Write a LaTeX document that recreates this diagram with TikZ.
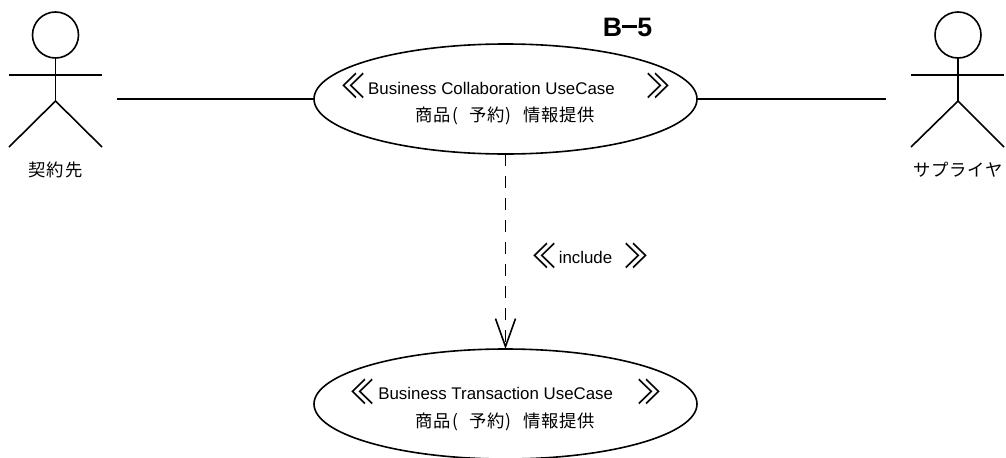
\documentclass[tikz,border=0pt]{standalone}
\usepackage{fontspec}
\usetikzlibrary{arrows.meta,shapes.geometric}
\setmainfont{Liberation Sans}
\newfontfamily\jpfont[LetterSpace=5]{Noto Sans CJK JP}
\newfontfamily\gfont{Noto Sans CJK JP}
\newcommand{\jtext}{\jpfont\fontsize{13pt}{13pt}\selectfont}
\newcommand{\sname}{商品(\hspace{8.7pt}予約)\hspace{8.7pt}情報提供}
\newcommand{\gl}{\scalebox{1}[1.4]{≪}}
\newcommand{\gr}{\scalebox{1}[1.4]{≫}}
\tikzset{
  x=0.75pt,y=-0.75pt,
  usecase/.style={draw,ellipse,minimum width=287.25pt,minimum height=82.5pt,inner sep=0pt,outer sep=0pt},
  head/.style={draw,circle,minimum size=34.5pt,inner sep=0pt,outer sep=0pt},
  latin/.style={inner sep=0pt,font=\fontsize{12.65pt}{12.65pt}\selectfont},
  jp/.style={inner sep=0pt,font=\jtext},
  guil/.style={inner sep=0pt,font=\gfont\fontsize{18pt}{18pt}\selectfont},
  title/.style={inner sep=0pt,font=\bfseries\fontsize{20pt}{20pt}\selectfont},
}
\begin{document}
\begin{tikzpicture}[line width=1.2pt]
\useasboundingbox (0,0) rectangle (1006,457);
\clip (0,0) rectangle (1006,457);
\node[usecase] (uc1) at (505.5,99) {};
\node[usecase] (uc2) at (505.5,404) {};
% left actor
\node[head] (h1) at (55.5,35) {};
\coordinate (hip1) at (55.5,101);
\coordinate (al1) at (9,75);
\coordinate (ar1) at (102,75);
\coordinate (ll1) at (9,147);
\coordinate (lr1) at (102,147);
\draw (h1.south) -- (hip1);
\draw (al1) -- (ar1);
\draw (ll1) -- (hip1) -- (lr1);
\node[jp] (n1) at (55.5,169.5) {契約先};
% right actor
\node[head] (h2) at (958,35) {};
\coordinate (hip2) at (958,101);
\coordinate (al2) at (911,75);
\coordinate (ar2) at (1004,75);
\coordinate (ll2) at (911,147);
\coordinate (lr2) at (1004,147);
\draw (h2.south) -- (hip2);
\draw (al2) -- (ar2);
\draw (ll2) -- (hip2) -- (lr2);
\node[jp] (n2) at (958,169.5) {サプライヤ};
% connectors
\coordinate (c1) at (117,99);
\coordinate (c2) at (886,99);
\draw (c1) -- (uc1.west);
\draw (uc1.east) -- (c2);
\draw[dash pattern=on 9pt off 7.5pt,-{Straight Barb[length=21pt,width=15pt]}] (uc1.south) -- (uc2.north);
% labels
\node[title] (t) at (627.5,27) {B\rule[6pt]{11.5pt}{2.3pt}5};
\node[guil] (g1l) at (353,86) {\gl};
\node[latin] (t1) at (491.5,88) {Business Collaboration UseCase};
\node[guil] (g1r) at (658,86) {\gr};
\node[jp] (s1) at (505.5,116) {\sname};
\node[guil] (g2l) at (362,392) {\gl};
\node[latin] (t2) at (495.7,393) {Business Transaction UseCase};
\node[guil] (g2r) at (649,392) {\gr};
\node[jp] (s2) at (505.5,422) {\sname};
\node[guil] (g3l) at (544.5,256) {\gl};
\node[latin] (t3) at (585.5,257) {include};
\node[guil] (g3r) at (636,256) {\gr};
\end{tikzpicture}
\end{document}
